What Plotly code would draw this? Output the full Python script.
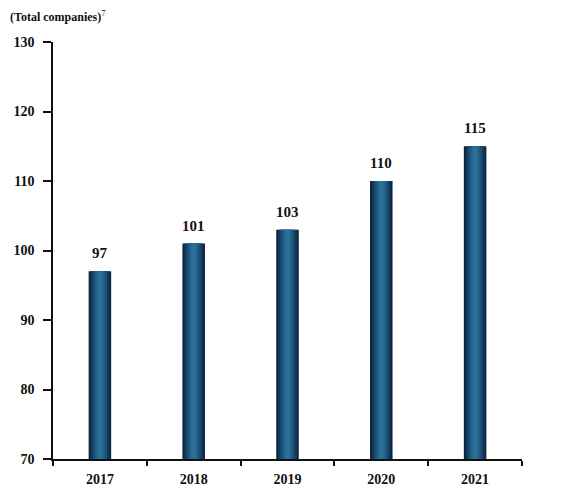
import plotly.graph_objects as go

years = ["2017", "2018", "2019", "2020", "2021"]
companies = [97, 101, 103, 110, 115]
y_ticks = [70, 80, 90, 100, 110, 120, 130]

FONT = "Liberation Serif"

fig = go.Figure()

# Layered bars of shrinking width give each column a shaded, cylindrical look
shades = [
    (0.24, "#0b2440"),
    (0.20, "#123a5c"),
    (0.15, "#1a5078"),
    (0.10, "#23618a"),
    (0.05, "#2c7098"),
]
for w, c in shades:
    fig.add_trace(go.Bar(
        x=years, y=[v - 70 for v in companies], base=70,
        width=w, marker=dict(color=c, line=dict(width=0)),
        hoverinfo="skip", showlegend=False,
    ))

# Value labels above the bars (category index used as x position)
annotations = [
    dict(x=i, y=v, xref="x", yref="y", text=f"<b>{v}</b>", showarrow=False,
         yanchor="bottom", yshift=8,
         font=dict(family=FONT, size=15, color="#111111"))
    for i, v in enumerate(companies)
]
annotations.append(dict(
    text="<b>(Total companies)</b><sup>7</sup>", xref="paper", yref="paper",
    x=-0.095, y=1.062, xanchor="left", yanchor="middle", showarrow=False,
    font=dict(family=FONT, size=12, color="#111111"),
))

fig.update_layout(
    width=562, height=490,
    margin=dict(l=53, r=40, t=42, b=31),
    barmode="overlay",
    plot_bgcolor="white", paper_bgcolor="white",
    font=dict(family=FONT, size=14, color="#111111"),
    annotations=annotations,
)
fig.update_xaxes(
    type="category", tickson="boundaries", ticks="outside", ticklen=5,
    tickcolor="#111111", tickwidth=1.5,
    showline=True, linecolor="#111111", linewidth=1.5,
    showgrid=False, ticklabelstandoff=6, automargin=False,
    tickfont=dict(family=FONT, size=14, color="#111111", weight="bold"),
    range=[-0.5, 4.5],
)
fig.update_yaxes(
    range=[70, 130], tickvals=y_ticks, ticks="outside", ticklen=8,
    tickcolor="#111111", tickwidth=1.5,
    showline=True, linecolor="#111111", linewidth=1.5,
    showgrid=False, zeroline=False, ticklabelstandoff=6, automargin=False,
    tickfont=dict(family=FONT, size=14, color="#111111", weight="bold"),
)

fig.write_html("out.html")
